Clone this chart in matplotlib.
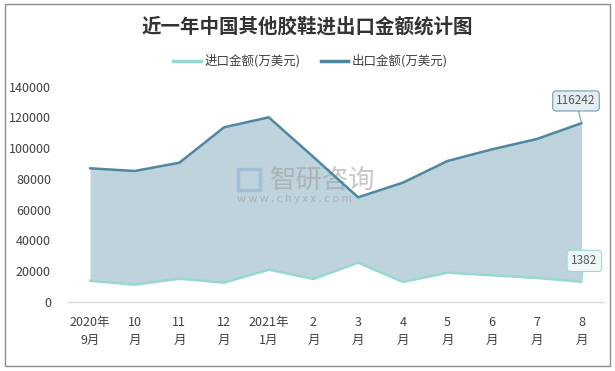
import matplotlib
matplotlib.use("Agg")
import matplotlib.pyplot as plt
from matplotlib.patches import Rectangle, FancyBboxPatch

plt.rcParams['font.family'] = ['Noto Sans CJK SC', 'DejaVu Sans']

categories = ["2020年\n9月", "10\n月", "11\n月", "12\n月", "2021年\n1月", "2\n月",
              "3\n月", "4\n月", "5\n月", "6\n月", "7\n月", "8\n月"]
export_vals = [86860, 85100, 90510, 113560, 120070, 94220, 67980, 77490, 91620, 99240, 105940, 116242]
import_vals = [13670, 11070, 14980, 12370, 20840, 14780, 25400, 12830, 18880, 17190, 15430, 13000]
export_label = "116242"
import_label = "1382"
yticks = [0, 20000, 40000, 60000, 80000, 100000, 120000, 140000]

title = "近一年中国其他胶鞋进出口金额统计图"
import_name = "进口金额(万美元)"
export_name = "出口金额(万美元)"

c_export = "#4f87a0"
c_import = "#97d8d3"
c_fill = "#bfd3dc"
c_text = "#404040"

fig = plt.figure(figsize=(6.15, 3.71), dpi=100)
ax = fig.add_axes([0.11, 0.1868, 0.872, 0.5795])
x = list(range(len(categories)))

ax.fill_between(x, import_vals, export_vals, color=c_fill, lw=0, zorder=1)
ax.plot(x, import_vals, color=c_import, lw=1.8, zorder=3, solid_capstyle='round')
ax.plot(x, export_vals, color=c_export, lw=1.8, zorder=3, solid_capstyle='round')

ax.set_xlim(-0.5, len(categories) - 0.5)
ax.set_ylim(0, 140000)
ax.set_yticks(yticks)
ax.set_yticklabels([str(v) for v in yticks], fontsize=9, color=c_text)
ax.set_xticks(x)
ax.set_xticklabels(categories, fontsize=9, color=c_text, linespacing=1.5)
ax.tick_params(axis='both', length=0)
ax.tick_params(axis='y', pad=12)
ax.tick_params(axis='x', pad=10)
for s in ['top', 'right', 'left']:
    ax.spines[s].set_visible(False)
ax.spines['bottom'].set_color('#d9d9d9')
ax.spines['bottom'].set_linewidth(1)

# Watermark
ax.text(0.378, 0.566, "智研咨询", transform=ax.transAxes, fontsize=19, color='#9a9a9a',
        alpha=0.55, ha='left', va='center', zorder=2)
ax.text(0.315, 0.478, "w w w . c h y x x . c o m", transform=ax.transAxes, fontsize=8,
        color='#9a9a9a', alpha=0.6, ha='left', va='center', zorder=2)
ax.add_patch(FancyBboxPatch((0.318, 0.52), 0.04, 0.095, transform=ax.transAxes,
                            boxstyle='square,pad=0', fc='none', ec='#8fb0d6', lw=2.5,
                            alpha=0.6, zorder=2))

# Callouts
ax.annotate(export_label, xy=(x[-1], export_vals[-1]), xytext=(-4, 16), textcoords='offset points',
            ha='center', va='center', fontsize=8.5, color='#595959', zorder=5,
            bbox=dict(boxstyle='round,pad=0.3,rounding_size=0.3', fc='#e4edf1', ec='#6d9fb2', lw=0.8),
            arrowprops=dict(arrowstyle='-', color='#6d9fb2', lw=0.8, shrinkA=0, shrinkB=0))
ax.annotate(import_label, xy=(x[-1], import_vals[-1]), xytext=(2, 15), textcoords='offset points',
            ha='center', va='center', fontsize=8.5, color='#595959', zorder=5,
            bbox=dict(boxstyle='round,pad=0.35,rounding_size=0.3', fc='#eef8f8', ec='#9ad8d4', lw=0.8),
            arrowprops=dict(arrowstyle='-', color='#9ad8d4', lw=0.8, shrinkA=0, shrinkB=0))

# Title and legend
fig.text(0.5, 0.927, title, ha='center', va='center', fontsize=14, fontweight='bold', color='#333333')
leg_handles = [plt.Line2D([], [], color=c_import, lw=2.5), plt.Line2D([], [], color=c_export, lw=2.5)]
fig.legend(leg_handles, [import_name, export_name], loc='center', bbox_to_anchor=(0.505, 0.835),
           ncol=2, frameon=False, fontsize=9, handlelength=2.2, handletextpad=0.3,
           columnspacing=1.6, labelcolor=c_text)

fig.patches.append(Rectangle((5 / 615, 5 / 371), 605 / 615, 362 / 371, transform=fig.transFigure,
                             fill=False, ec='#8c8c8c', lw=1))

fig.savefig("out.png", dpi=100)
